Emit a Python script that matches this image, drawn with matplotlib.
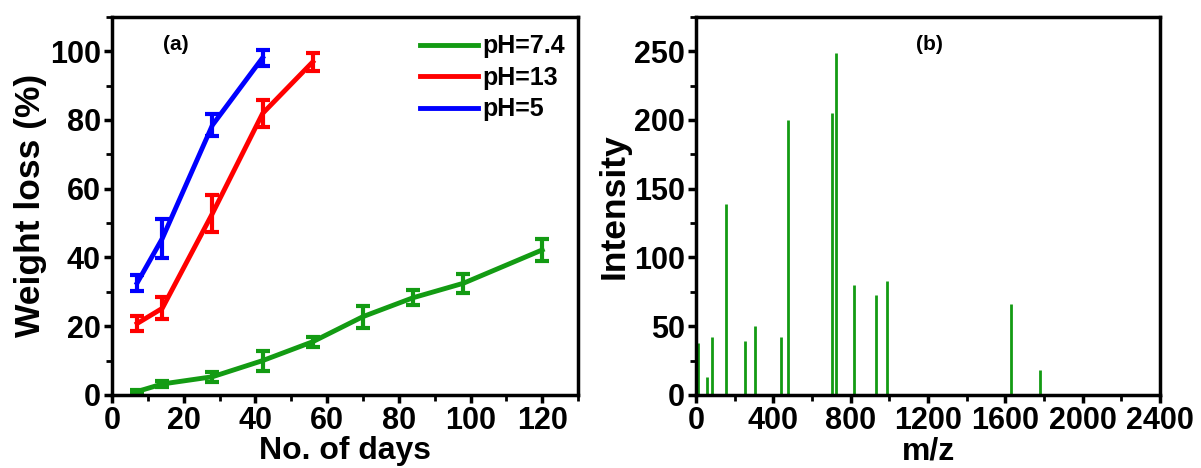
import numpy as np
import matplotlib.pyplot as plt
from matplotlib.ticker import MultipleLocator

plt.rcParams['font.family'] = ['Liberation Sans', 'DejaVu Sans']
plt.rcParams['font.weight'] = 'bold'

# panel (a): weight loss vs days
days_74 = [7, 14, 28, 42, 56, 70, 84, 98, 120]
loss_74 = [1.0, 3.2, 5.3, 10.0, 15.5, 22.8, 28.3, 32.5, 42.2]
err_74 = [0.5, 0.8, 1.5, 2.9, 1.5, 3.2, 2.1, 2.8, 3.2]

days_13 = [7, 14, 28, 42, 56]
loss_13 = [20.8, 25.2, 52.8, 81.9, 96.9]
err_13 = [2.2, 3.2, 5.5, 4.0, 2.6]

days_5 = [7, 14, 28, 42]
loss_5 = [32.6, 45.5, 78.5, 98.1]
err_5 = [2.4, 5.7, 3.3, 2.4]

# panel (b): mass spectrum peaks
mz = [10, 58, 84, 155, 255, 307, 440, 474, 705, 724, 817, 933, 990, 1628, 1778]
intensity = [38, 13, 42, 139, 39, 50, 42, 200, 205, 249, 80, 73, 83, 66, 18]

green = '#139b13'

fig = plt.figure(figsize=(12.01, 4.68), dpi=100)
ax1 = fig.add_axes([0.0933, 0.156, 0.388, 0.808])
ax2 = fig.add_axes([0.5795, 0.156, 0.3865, 0.808])

for x, y, e, c, lab in [(days_74, loss_74, err_74, green, 'pH=7.4'),
                        (days_13, loss_13, err_13, 'red', 'pH=13'),
                        (days_5, loss_5, err_5, 'blue', 'pH=5')]:
    ax1.errorbar(x, y, yerr=e, color=c, lw=3.5, elinewidth=3, capsize=5,
                 capthick=3, label=lab)

ax1.set_xlim(0, 130)
ax1.set_ylim(0, 110)
ax1.xaxis.set_major_locator(MultipleLocator(20))
ax1.xaxis.set_minor_locator(MultipleLocator(10))
ax1.yaxis.set_major_locator(MultipleLocator(20))
ax1.yaxis.set_minor_locator(MultipleLocator(10))
ax1.set_xlabel('No. of days', fontsize=23, fontweight='bold', labelpad=0)
ax1.set_ylabel('Weight loss (%)', fontsize=25.5, fontweight='bold', labelpad=2)
ax1.text(0.137, 0.926, '(a)', transform=ax1.transAxes, fontsize=15,
         fontweight='bold', ha='center', va='center')
handles, labels = ax1.get_legend_handles_labels()
handles = [h[0] for h in handles]
ax1.legend(handles, labels, loc='upper right', frameon=False, fontsize=18,
           handlelength=2.3, handletextpad=0.2, labelspacing=0.3,
           borderaxespad=0.3, bbox_to_anchor=(1.01, 1.0))

ax2.vlines(mz, 0, intensity, color=green, lw=2)
ax2.set_xlim(0, 2400)
ax2.set_ylim(0, 275)
ax2.xaxis.set_major_locator(MultipleLocator(400))
ax2.xaxis.set_minor_locator(MultipleLocator(200))
ax2.yaxis.set_major_locator(MultipleLocator(50))
ax2.yaxis.set_minor_locator(MultipleLocator(25))
ax2.set_xlabel('m/z', fontsize=23, fontweight='bold', labelpad=0)
ax2.set_ylabel('Intensity', fontsize=25.5, fontweight='bold', labelpad=2)
ax2.text(0.504, 0.926, '(b)', transform=ax2.transAxes, fontsize=15,
         fontweight='bold', ha='center', va='center')

for ax in (ax1, ax2):
    for s in ax.spines.values():
        s.set_linewidth(2.5)
    ax.tick_params(which='major', direction='out', length=6, width=2.5,
                   labelsize=22, pad=2)
    ax.tick_params(which='minor', direction='out', length=4, width=2)
    for t in ax.get_xticklabels() + ax.get_yticklabels():
        t.set_fontweight('bold')

fig.savefig('out.png', dpi=100)
